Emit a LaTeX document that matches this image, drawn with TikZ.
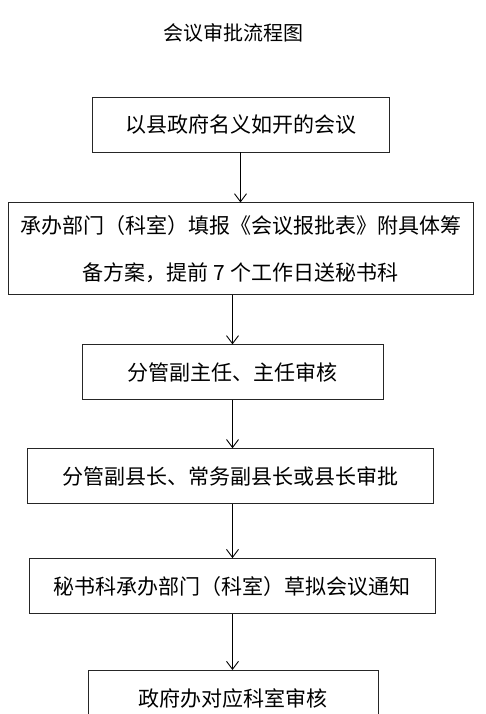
\documentclass[tikz,border=0pt]{standalone}
\usepackage{fontspec}
\setmainfont{Noto Sans CJK SC}
\usepackage{tikz}
\usetikzlibrary{arrows.meta, positioning}

\begin{document}
\begin{tikzpicture}[
  every node/.style={font=\fontsize{21pt}{47pt}\selectfont},
  block/.style={rectangle, draw=black!85, line width=0.9pt, align=center, minimum height=55pt, inner sep=0pt},
  line/.style={-{Straight Barb[length=8pt, width=12pt]}, line width=0.9pt}
]
\clip (0,0) rectangle (485pt,-714pt);
\node[font=\fontsize{20pt}{24pt}\selectfont] (title) at (233pt,-33pt) {会议审批流程图};
\node[block, minimum width=297pt] (open) at (240.5pt,-124.5pt) {以县政府名义如开的会议};
\node[block, minimum width=465pt, minimum height=92pt, below=50pt of open] (report) {承办部门（科室）填报《会议报批表》附具体筹\\备方案，提前 7 个工作日送秘书科};
\node[block, minimum width=301pt, below=49pt of report, xshift=-8pt] (review) {分管副主任、主任审核};
\node[block, minimum width=406pt, below=48pt of review, xshift=-2.5pt] (approve) {分管副县长、常务副县长或县长审批};
\node[block, minimum width=406pt, below=54pt of approve, xshift=2pt] (notice) {秘书科承办部门（科室）草拟会议通知};
\node[block, minimum width=290pt, below=56pt of notice, xshift=1pt] (office) {政府办对应科室审核};

\draw[line] (open) -- (report);
\draw[line] (report.south -| review.north) -- (review);
\draw[line] (review) -- (review.south |- approve.north);
\draw[line] (review.south |- approve.south) -- (review.south |- notice.north);
\draw[line] (review.south |- notice.south) -- (review.south |- office.north);
\end{tikzpicture}
\end{document}
